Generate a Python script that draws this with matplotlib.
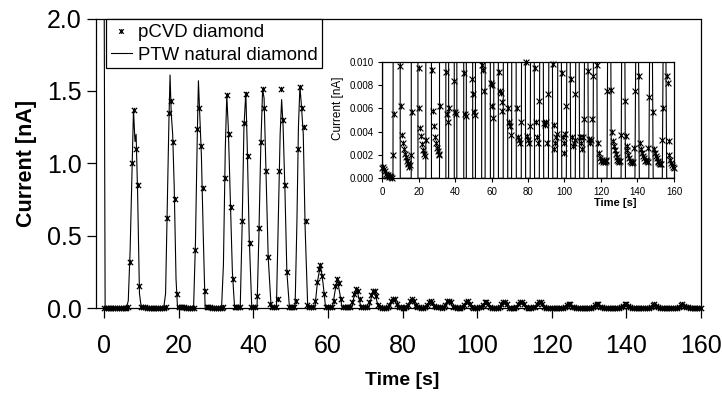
import numpy as np
import matplotlib
matplotlib.use("Agg")
import matplotlib.pyplot as plt
from matplotlib.path import Path
from matplotlib.ticker import FormatStrFormatter

plt.rcParams["font.family"] = ["Liberation Sans", "DejaVu Sans"]

# pCVD diamond current [nA], one reading every 0.5 s from 0 s to 160 s
pcvd_dt = 0.5
pcvd_current = [
    0.0009, 0.0010, 0.0008, 0.0006, 0.0004, 0.0003, 0.0002, 0.0003, 0.0001, 0.0002,
    0.0001, 0.0000, 0.0020, 0.0055, 0.32, 1.00, 1.37, 1.10, 0.85, 0.15,
    0.0096, 0.0062, 0.0037, 0.0030, 0.0025, 0.0021, 0.0018, 0.0015, 0.0013, 0.0012,
    0.0010, 0.0011, 0.0020, 0.0057, 0.62, 1.35, 1.43, 1.15, 0.75, 0.10,
    0.0095, 0.0060, 0.0043, 0.0036, 0.0029, 0.0024, 0.0021, 0.0019, 0.0033, 0.40,
    1.24, 1.38, 1.12, 0.83, 0.12, 0.0093, 0.0058, 0.0045, 0.0035, 0.0030,
    0.0026, 0.0023, 0.0021, 0.0020, 0.0062, 0.90, 1.47, 1.20, 0.70, 0.20,
    0.0091, 0.0055, 0.0048, 0.0060, 0.60, 1.28, 1.48, 1.05, 0.45, 0.0083,
    0.0057, 0.0055, 0.08, 0.55, 1.15, 1.51, 1.38, 0.95, 0.35, 0.03,
    0.0090, 0.0055, 0.0053, 0.06, 0.95, 1.51, 1.30, 0.85, 0.25, 0.0085,
    0.0072, 0.0057, 0.0054, 0.05, 1.10, 1.53, 1.38, 1.25, 0.60, 0.02,
    0.0097, 0.0093, 0.0075, 0.05, 0.18, 0.27, 0.30, 0.22, 0.10, 0.0082,
    0.0080, 0.0062, 0.0052, 0.05, 0.15, 0.20, 0.17, 0.06, 0.0091, 0.0075,
    0.0073, 0.0065, 0.0058, 0.04, 0.10, 0.13, 0.12, 0.06, 0.0060, 0.0048,
    0.0045, 0.0037, 0.04, 0.09, 0.12, 0.12, 0.08, 0.02, 0.0060, 0.0035,
    0.0033, 0.0030, 0.0048, 0.02, 0.05, 0.065, 0.06, 0.03, 0.0100, 0.0036,
    0.0033, 0.0030, 0.0045, 0.02, 0.05, 0.06, 0.05, 0.02, 0.0095, 0.0048,
    0.0035, 0.0030, 0.0066, 0.02, 0.04, 0.045, 0.035, 0.012, 0.0047, 0.0046,
    0.0048, 0.0030, 0.0072, 0.02, 0.045, 0.05, 0.04, 0.0098, 0.0046, 0.0025,
    0.0030, 0.0035, 0.0038, 0.02, 0.04, 0.045, 0.03, 0.0090, 0.0035, 0.0022,
    0.0030, 0.0038, 0.0062, 0.02, 0.04, 0.04, 0.03, 0.0085, 0.0035, 0.0028,
    0.0030, 0.0033, 0.0072, 0.025, 0.04, 0.04, 0.025, 0.0035, 0.0030, 0.0025,
    0.0035, 0.0051, 0.025, 0.04, 0.04, 0.03, 0.0092, 0.0034, 0.0030, 0.0033,
    0.0051, 0.0088, 0.025, 0.04, 0.04, 0.025, 0.0097, 0.0030, 0.0022, 0.0017,
    0.0015, 0.0016, 0.0014, 0.0015, 0.0014, 0.0016, 0.0015, 0.0075, 0.02, 0.03,
    0.025, 0.0076, 0.0040, 0.0032, 0.0028, 0.0024, 0.0021, 0.0018, 0.0016, 0.0015,
    0.0014, 0.0015, 0.0037, 0.02, 0.03, 0.025, 0.0066, 0.0036, 0.0028, 0.0024,
    0.0020, 0.0017, 0.0015, 0.0014, 0.0013, 0.0014, 0.0026, 0.0075, 0.015, 0.025,
    0.025, 0.015, 0.0088, 0.0030, 0.0025, 0.0022, 0.0019, 0.0017, 0.0015, 0.0016,
    0.0015, 0.0014, 0.0026, 0.0070, 0.02, 0.025, 0.015, 0.0057, 0.0025, 0.0022,
    0.0019, 0.0017, 0.0015, 0.0014, 0.0013, 0.0012, 0.0012, 0.0033, 0.0060, 0.02,
    0.025, 0.015, 0.0088, 0.0082, 0.0032, 0.0020, 0.0016, 0.0013, 0.0011, 0.0010,
    0.0009,
]
pcvd_time = np.arange(len(pcvd_current)) * pcvd_dt

# PTW natural diamond, line vertices (time [s], current [nA])
ptw_time = [
    0.0, 0.3, 6.0, 6.5, 7.0, 7.5, 7.9, 8.3, 8.6, 9.0, 9.5, 10.0,
    16.0, 16.5, 17.0, 17.4, 17.7, 18.0, 18.4, 18.8, 19.3, 19.7,
    24.0, 24.5, 25.0, 25.3, 25.7, 26.1, 26.6, 27.1,
    31.5, 32.0, 32.5, 32.9, 33.3, 33.8, 34.4, 35.0,
    36.5, 37.0, 37.5, 38.0, 38.4, 38.9, 39.6,
    41.0, 41.5, 42.0, 42.5, 42.9, 43.4, 44.0, 44.8,
    46.2, 46.7, 47.2, 47.6, 48.0, 48.5, 49.0, 49.7,
    51.2, 51.7, 52.1, 52.5, 52.9, 53.4, 53.9, 54.6,
    56.5, 57.2, 58.0, 58.7, 59.4,
    61.2, 61.8, 62.5, 63.2, 63.8,
    66.4, 67.0, 67.7, 68.3, 68.9,
    71.0, 71.6, 72.3, 73.0, 73.6,
    76.3, 76.9, 77.5, 78.1, 78.7,
    81.2, 81.8, 82.4, 83.0, 83.6,
    86.2, 86.8, 87.4, 88.0, 88.6,
    91.2, 91.8, 92.4, 93.0, 93.6,
    96.1, 96.7, 97.3, 97.9, 98.5,
    101.0, 101.6, 102.2, 102.8, 103.4,
    105.9, 106.5, 107.1, 107.7, 108.3,
    110.7, 111.3, 111.9, 112.5, 113.1,
    115.6, 116.2, 116.8, 117.4, 118.0,
    123.3, 123.9, 124.5, 125.1, 125.7,
    131.0, 131.6, 132.2, 132.8, 133.4,
    138.6, 139.2, 139.8, 140.4, 141.0,
    146.2, 146.8, 147.4, 148.0, 148.6,
    153.6, 154.2, 154.8, 155.4, 156.0,
    160.0,
]
ptw_current = [
    2.5, 0.0, 0.0, 0.05, 0.40, 0.95, 1.37, 1.15, 1.20, 0.80, 0.10, 0.0,
    0.0, 0.10, 0.75, 1.30, 1.61, 1.35, 1.20, 0.85, 0.20, 0.0,
    0.0, 0.45, 1.20, 1.57, 1.30, 1.05, 0.50, 0.0,
    0.0, 0.30, 1.10, 1.47, 1.25, 0.80, 0.25, 0.0,
    0.0, 0.55, 1.25, 1.49, 1.10, 0.50, 0.0,
    0.0, 0.50, 1.10, 1.51, 1.45, 0.95, 0.35, 0.0,
    0.0, 0.60, 1.20, 1.44, 1.25, 0.80, 0.25, 0.0,
    0.0, 0.60, 1.25, 1.53, 1.40, 1.20, 0.55, 0.0,
    0.0, 0.18, 0.30, 0.17, 0.0,
    0.0, 0.10, 0.20, 0.10, 0.0,
    0.0, 0.08, 0.13, 0.07, 0.0,
    0.0, 0.07, 0.12, 0.06, 0.0,
    0.0, 0.04, 0.065, 0.04, 0.0,
    0.0, 0.035, 0.06, 0.035, 0.0,
    0.0, 0.03, 0.045, 0.03, 0.0,
    0.0, 0.03, 0.05, 0.03, 0.0,
    0.0, 0.03, 0.045, 0.03, 0.0,
    0.0, 0.025, 0.04, 0.025, 0.0,
    0.0, 0.025, 0.04, 0.025, 0.0,
    0.0, 0.025, 0.04, 0.025, 0.0,
    0.0, 0.025, 0.04, 0.025, 0.0,
    0.0, 0.02, 0.03, 0.02, 0.0,
    0.0, 0.02, 0.03, 0.02, 0.0,
    0.0, 0.015, 0.025, 0.015, 0.0,
    0.0, 0.015, 0.025, 0.015, 0.0,
    0.0, 0.015, 0.025, 0.015, 0.0,
    0.0,
]

main_xticks = [0, 20, 40, 60, 80, 100, 120, 140, 160]
main_yticks = [0.0, 0.5, 1.0, 1.5, 2.0]
inset_yticks = [0.000, 0.002, 0.004, 0.006, 0.008, 0.010]

# excel-like star marker: an x with a vertical bar
star = Path(
    [(-1, -1), (1, 1), (-1, 1), (1, -1), (0, -1), (0, 1)],
    [Path.MOVETO, Path.LINETO, Path.MOVETO, Path.LINETO, Path.MOVETO, Path.LINETO],
)

fig = plt.figure(figsize=(7.22, 4.01), dpi=100)

# main plot
ax = fig.add_axes([0.1330, 0.2319, 0.8380, 0.7219])
ax.plot(pcvd_time, pcvd_current, ls="none", marker=star, ms=3.8, mew=0.9,
        mec="black", color="black", label="pCVD diamond", clip_on=False, zorder=3)
ax.plot(ptw_time, ptw_current, color="black", lw=0.8,
        label="PTW natural diamond", zorder=2)

ax.set_xlim(-2.14, 160)
ax.set_ylim(0, 2.0)
ax.set_xticks(main_xticks)
ax.set_yticks(main_yticks)
ax.yaxis.set_major_formatter(FormatStrFormatter("%.1f"))
ax.tick_params(axis="both", direction="out", width=0.9, labelsize=18)
ax.tick_params(axis="y", length=6.5, pad=3.6)
ax.tick_params(axis="x", length=7.0, pad=12)
for s in ax.spines.values():
    s.set_linewidth(0.9)
    s.set_color("black")

ax.set_xlabel("Time [s]", fontsize=14, fontweight="bold")
ax.set_ylabel("Current [nA]", fontsize=15.5, fontweight="bold")
ax.xaxis.set_label_coords(0.506, -0.222)
ax.yaxis.set_label_coords(-0.0975, 0.50)

leg = ax.legend(loc="upper left", bbox_to_anchor=(0.0165, 0.997), borderaxespad=0,
                fontsize=13.4, handlelength=1.15, handletextpad=0.32,
                borderpad=0.25, labelspacing=0.3, fancybox=False,
                framealpha=1, edgecolor="black", markerscale=0.85)
leg.get_frame().set_linewidth(0.9)

# inset: zoom on the low current range
axin = fig.add_axes([0.5291, 0.5554, 0.4044, 0.2908])
low = np.array(pcvd_current)
low = np.where(low <= 0.0102, low, np.nan)
axin.plot(ptw_time, ptw_current, color="black", lw=0.8, zorder=2)
axin.plot(pcvd_time, low, ls="none", marker=star, ms=4.2, mew=0.8,
          mec="black", color="black", clip_on=False, zorder=3)
axin.set_xlim(0, 160)
axin.set_ylim(0, 0.010)
axin.set_xticks(main_xticks)
axin.set_yticks(inset_yticks)
axin.yaxis.set_major_formatter(FormatStrFormatter("%.3f"))
axin.tick_params(axis="both", direction="out", length=3, width=0.8,
                 labelsize=7, pad=3)
for s in axin.spines.values():
    s.set_linewidth(0.9)
    s.set_color("black")
axin.set_ylabel("Current [nA]", fontsize=8.5)
axin.set_xlabel("Time [s]", fontsize=8, fontweight="bold")
axin.yaxis.set_label_coords(-0.13, 0.60)
axin.xaxis.set_label_coords(0.80, -0.17)

fig.savefig("out.png", dpi=100)
